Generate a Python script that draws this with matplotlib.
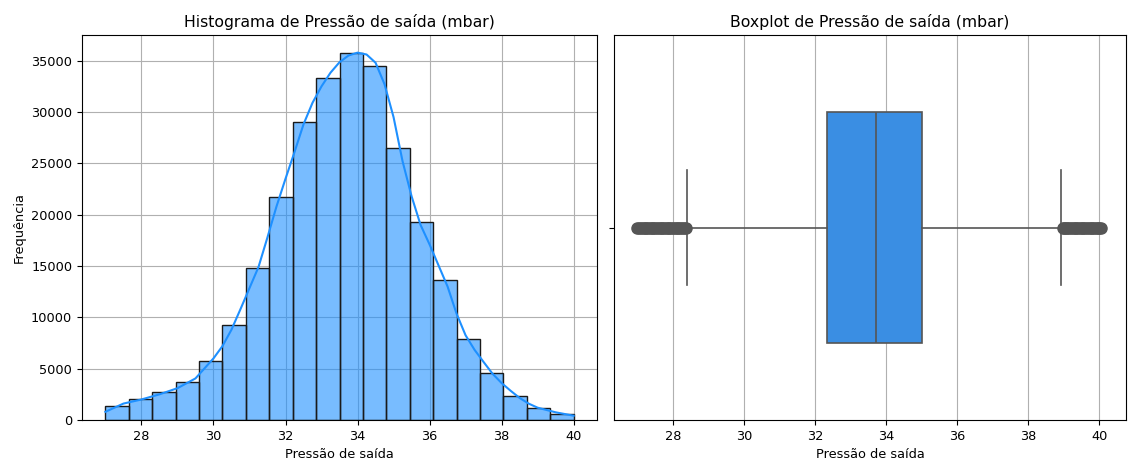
import numpy as np
import matplotlib
matplotlib.use("Agg")
import matplotlib.pyplot as plt

# histogram counts, 20 bins from 27 to 40
bin_start = 27.0
bin_end = 40.0
counts = [1400, 2000, 2700, 3700, 5750, 9300, 14800, 21700, 29000, 33350,
          35750, 34450, 26450, 19250, 13650, 7900, 4550, 2330, 1200, 550]

# kde curve (scaled to counts)
kde_x = [27.0, 27.5, 28.0, 28.5, 29.0, 29.5, 30.0, 30.25, 30.5, 30.75,
         31.0, 31.25, 31.5, 31.75, 32.0, 32.25, 32.5, 32.75, 33.0, 33.25,
         33.5, 33.75, 34.0, 34.25, 34.5, 34.75, 35.0, 35.25, 35.5, 35.75,
         36.0, 36.25, 36.5, 36.75, 37.0, 37.25, 37.5, 37.75, 38.0, 38.25,
         38.5, 38.75, 39.0, 39.5, 40.0]
kde_y = [800, 1600, 2000, 2500, 3100, 4050, 6000, 7200, 8800, 10800,
         12850, 14900, 17800, 20800, 23500, 26100, 28800, 30900, 32500, 33830,
         34850, 35500, 35780, 35600, 34800, 32700, 29500, 25200, 21800, 19000,
         17100, 15050, 13000, 10350, 8250, 6830, 5650, 4500, 3600, 2850,
         2150, 1600, 1200, 750, 420]

# boxplot summary
q1, med, q3 = 32.34, 33.72, 35.0
whis_lo, whis_hi = 28.40, 38.93
fliers_low = [27.00, 27.05, 27.10, 27.15, 27.20, 27.25, 27.30, 27.35,
              27.40, 27.45, 27.50, 27.55, 27.60, 27.65, 27.70, 27.75,
              27.80, 27.85, 27.90, 27.95, 28.00, 28.05, 28.10, 28.15,
              28.20, 28.25, 28.30, 28.37]
fliers_high = [38.97, 39.00, 39.05, 39.10, 39.15, 39.20, 39.25, 39.30,
               39.35, 39.40, 39.45, 39.50, 39.55, 39.60, 39.65, 39.70,
               39.75, 39.80, 39.85, 39.90, 39.95, 40.00, 40.05]

plt.rcParams['font.size'] = 9.3

fig = plt.figure(figsize=(11.28, 4.61), dpi=100)
ax1 = fig.add_axes([0.0727, 0.0889, 0.4566, 0.8352])
ax2 = fig.add_axes([0.5443, 0.0889, 0.4540, 0.8352])

# histogram
n = len(counts)
w = (bin_end - bin_start) / n
lefts = [bin_start + i * w for i in range(n)]
ax1.bar(lefts, counts, width=w, align='edge', color='#1E90FF', alpha=0.6,
        edgecolor='none', zorder=2)
ax1.bar(lefts, counts, width=w, align='edge', facecolor='none',
        edgecolor='#1a1a1a', linewidth=1.0, zorder=2.1)
ax1.plot(kde_x, kde_y, color='#1E90FF', lw=1.5, zorder=3)
ax1.set_xlim(26.35, 40.65)
ax1.set_ylim(0, 37500)
ax1.set_xticks([28, 30, 32, 34, 36, 38, 40])
ax1.set_yticks(range(0, 35001, 5000))
ax1.grid(True, color='#b0b0b0', lw=0.8, zorder=0)
ax1.set_axisbelow(True)
ax1.set_title('Histograma de Pressão de saída (mbar)', fontsize=11.3)
ax1.set_xlabel('Pressão de saída')
ax1.set_ylabel('Frequência')

# boxplot
line_c = '#555555'
stats = [dict(med=med, q1=q1, q3=q3, whislo=whis_lo, whishi=whis_hi,
              fliers=fliers_low + fliers_high)]
ax2.bxp(stats, positions=[0], widths=0.6, vert=False, patch_artist=True,
        capwidths=0.3,
        boxprops=dict(facecolor='#3a8ee3', edgecolor=line_c, lw=1.2),
        medianprops=dict(color=line_c, lw=1.2),
        whiskerprops=dict(color=line_c, lw=1.2),
        capprops=dict(color=line_c, lw=1.2),
        flierprops=dict(marker='o', markersize=8, markerfacecolor=line_c,
                        markeredgecolor=line_c))
ax2.set_xlim(26.34, 40.75)
ax2.set_ylim(0.5, -0.5)
ax2.set_xticks([28, 30, 32, 34, 36, 38, 40])
ax2.set_xticklabels(['28', '30', '32', '34', '36', '38', '40'])
ax2.set_yticks([0])
ax2.set_yticklabels([''])
ax2.grid(True, axis='x', color='#b0b0b0', lw=0.8)
ax2.set_axisbelow(True)
ax2.set_title('Boxplot de Pressão de saída (mbar)', fontsize=11.3)
ax2.set_xlabel('Pressão de saída')

fig.savefig('out.png', dpi=100)
